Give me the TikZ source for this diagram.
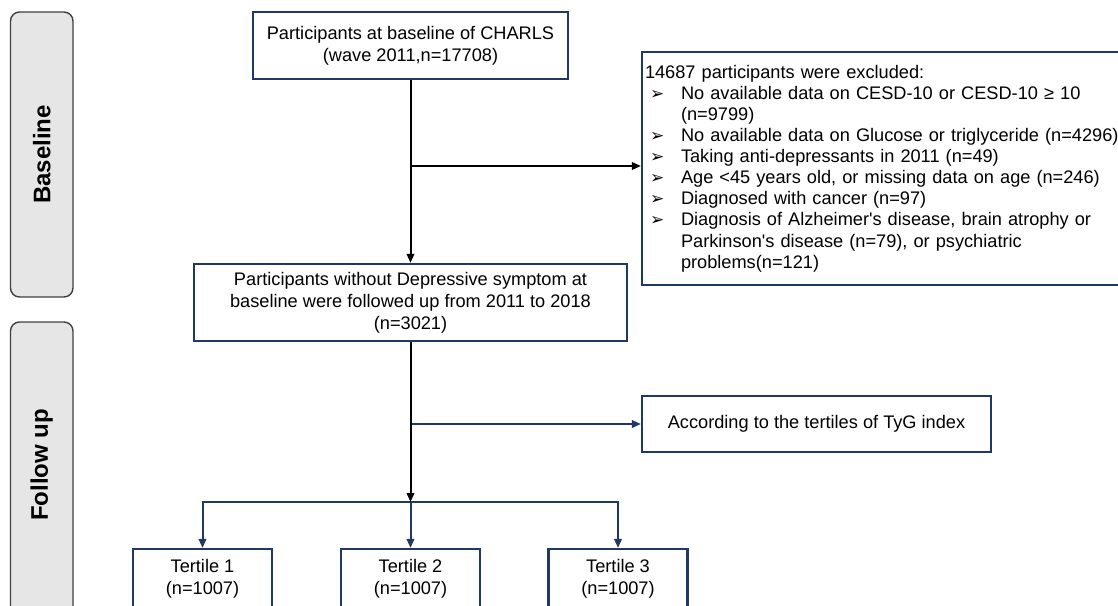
\documentclass[tikz,border=0pt]{standalone}
\usepackage{fontspec}
\setmainfont{Liberation Sans}
\newfontfamily\symfont{DejaVu Sans}
\usetikzlibrary{arrows.meta}
\definecolor{navy}{HTML}{1F3864}
\definecolor{sidefill}{HTML}{E7E6E6}
\definecolor{sideline}{HTML}{404040}
\newcommand\exbul{\makebox[36pt][l]{\hspace{5pt}{\symfont\fontsize{17}{17}\selectfont ➢}}}
\begin{document}
\begin{tikzpicture}[x=1pt,y=-1pt,
 box/.style={draw=navy,line width=2.2pt,fill=white,align=center,inner sep=4pt,font=\fontsize{18.2}{22}\selectfont},
 side/.style={draw=sideline,fill=sidefill,line width=1.4pt,rounded corners=9pt,inner sep=0pt},
 sidelabel/.style={rotate=90,font=\fontsize{24}{28}\selectfont\bfseries,inner sep=0pt},
 arr/.style={-{Triangle[length=9pt,width=7.5pt]},line width=2pt},
 blackarr/.style={arr,draw=black},
 navyarr/.style={arr,draw=navy},
]
\useasboundingbox (0,0) rectangle (1118,605);
% side panels
\node[side,minimum width=62.5,minimum height=285] (sb) at (41.75,154.5) {};
\node[sidelabel] (sbl) at (41.75,154.5) {Baseline};
\node[side,minimum width=62.5,minimum height=300] (sf) at (41.75,472) {};
\node[sidelabel] (sfl) at (41.75,465) {Follow up};
% boxes
\node[box,minimum width=315,minimum height=67] (top) at (410.5,45.5)
 {Participants at baseline of CHARLS\\(wave 2011,n=17708)};
\node[box,minimum width=433,minimum height=77] (mid) at (410.5,302.5)
 {Participants without Depressive symptom at\\baseline were followed up from 2011 to 2018\\(n=3021)};
\node[box,text width=473,inner xsep=3pt,minimum height=233,align=left,font=\fontsize{18.2}{21.1}\selectfont] (ex) at (881.5,168.5)
 {14687 participants were excluded:\\
 \mbox{\exbul No available data on CESD-10 or CESD-10 ≥ 10}\\
 \hspace*{36pt}(n=9799)\\
 \mbox{\exbul No available data on Glucose or triglyceride (n=4296)}\\
 \mbox{\exbul Taking anti-depressants in 2011 (n=49)}\\
 \mbox{\exbul Age <45 years old, or missing data on age (n=246)}\\
 \mbox{\exbul Diagnosed with cancer (n=97)}\\
 \mbox{\exbul Diagnosis of Alzheimer\textquotesingle s disease, brain atrophy or}\\
 \hspace*{36pt}\mbox{Parkinson\textquotesingle s disease (n=79), or psychiatric}\\
 \hspace*{36pt}problems(n=121)};
\node[box,minimum width=349,minimum height=56] (tyg) at (816.5,424)
 {According to the tertiles of TyG index};
\node[box,minimum width=139,minimum height=60] (t1) at (202.5,579) {Tertile 1\\(n=1007)};
\node[box,minimum width=139,minimum height=60] (t2) at (410.5,579) {Tertile 2\\(n=1007)};
\node[box,minimum width=139,minimum height=60] (t3) at (618,579) {Tertile 3\\(n=1007)};
% junctions
\coordinate (j1) at (410.5,166);
\coordinate (j2) at (410.5,424);
\coordinate (j3) at (410.5,502);
% connectors
\draw[navyarr] (j2) -- (j2 -| tyg.west);
\draw[navyarr] (j3) -| (t1.north);
\draw[navyarr] (j3) -| (t3.north);
\draw[navyarr] (j3) -- (t2.north);
\draw[blackarr] (top.south) -- (mid.north);
\draw[blackarr] (j1) -- (j1 -| ex.west);
\draw[blackarr] (mid.south) -- (j3);
\end{tikzpicture}
\end{document}
